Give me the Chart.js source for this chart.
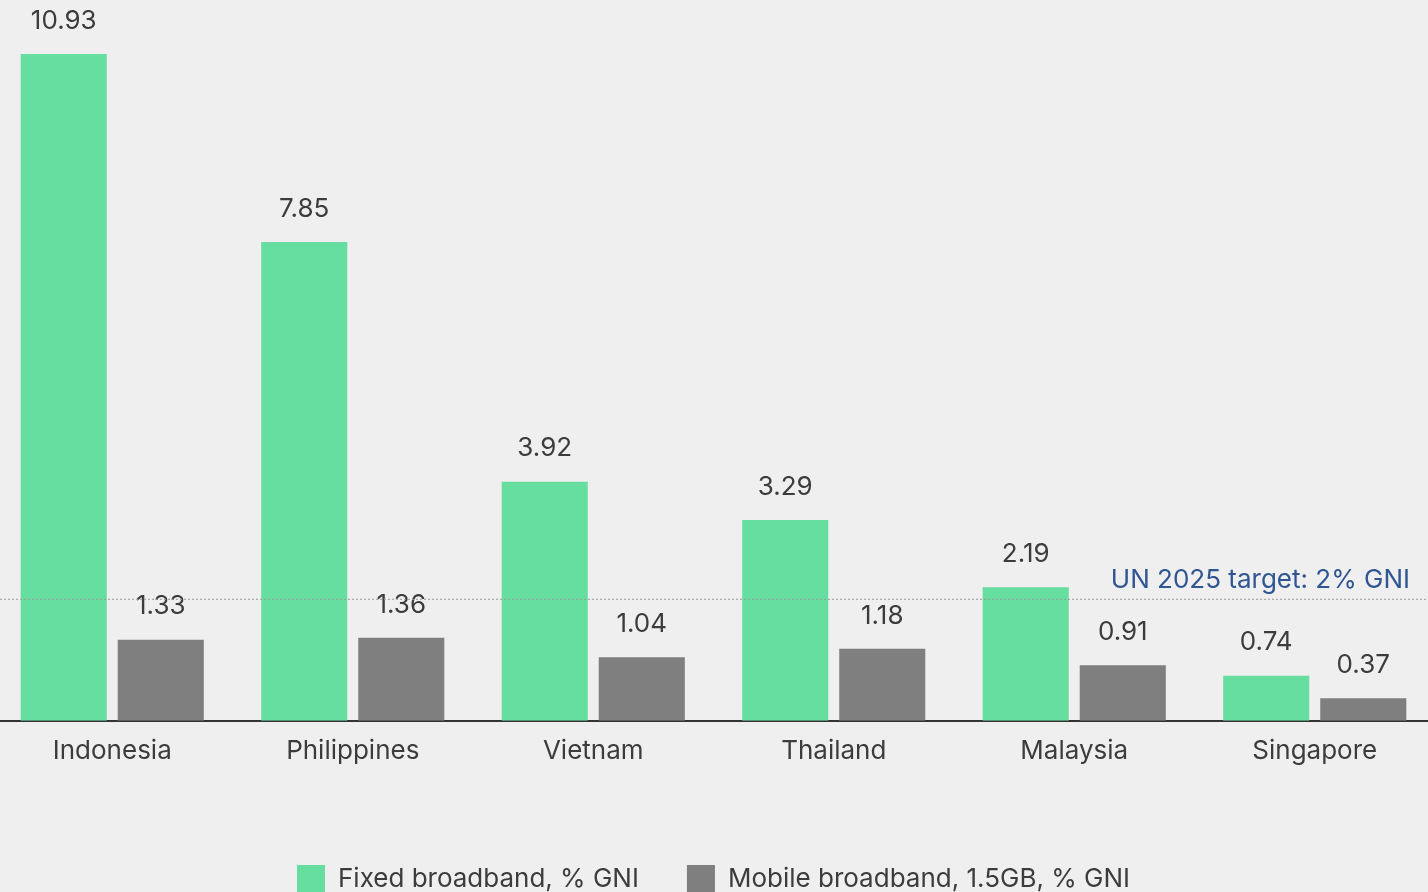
<!DOCTYPE html>
<html>
<head>
<meta charset="utf-8">
<script src="https://cdn.jsdelivr.net/npm/chart.js@4"></script>
<style>
  html, body { margin: 0; padding: 0; background: #efefef; overflow: hidden; }
  #wrap { position: absolute; left: -8px; top: 0; width: 1443px; height: 892px; }
</style>
</head>
<body>
<div id="wrap"><canvas id="gniChart" width="1443" height="892"></canvas></div>
<script>
// values as printed on the bars
const countries = ['Indonesia', 'Philippines', 'Vietnam', 'Thailand', 'Malaysia', 'Singapore'];
const fixedBroadband = [10.93, 7.85, 3.92, 3.29, 2.19, 0.74];
const mobileBroadband = [1.33, 1.36, 1.04, 1.18, 0.91, 0.37];
const seriesNames = ['Fixed broadband, % GNI', 'Mobile broadband, 1.5GB, % GNI'];
const targetValue = 2;
const targetLabel = 'UN 2025 target: 2% GNI';

const FONT = 'Inter, "Noto Sans", sans-serif';
const TEXT = '#3c3c3c';

// numbers above each bar
const valueLabels = {
    id: 'valueLabels',
    afterDatasetsDraw(chart) {
        const ctx = chart.ctx;
        ctx.save();
        ctx.font = '26px ' + FONT;
        ctx.fillStyle = TEXT;
        ctx.textAlign = 'center';
        ctx.textBaseline = 'middle';
        chart.data.datasets.forEach((ds, i) => {
            chart.getDatasetMeta(i).data.forEach((bar, j) => {
                ctx.fillText(ds.data[j].toFixed(2), bar.x, bar.y - 33);
            });
        });
        ctx.restore();
    }
};

// dotted UN target line
const targetLine = {
    id: 'targetLine',
    afterDatasetsDraw(chart) {
        const ctx = chart.ctx;
        const y = chart.scales.y.getPixelForValue(targetValue);
        ctx.save();
        ctx.strokeStyle = '#9a9a9a';
        ctx.lineWidth = 1;
        ctx.setLineDash([2, 2]);
        ctx.beginPath();
        ctx.moveTo(8, y + 0.5);
        ctx.lineTo(chart.width, y + 0.5);
        ctx.stroke();
        ctx.setLineDash([]);
        ctx.font = '26px ' + FONT;
        ctx.fillStyle = '#2f5592';
        ctx.textAlign = 'right';
        ctx.textBaseline = 'alphabetic';
        ctx.fillText(targetLabel, 1418, y - 11);
        ctx.restore();
    }
};

const config = {
    type: 'bar',
    data: {
        labels: countries,
        datasets: [{
            label: seriesNames[0],
            data: fixedBroadband,
            backgroundColor: '#66de9f',
            categoryPercentage: 0.807,
            barPercentage: 0.887,
        }, {
            label: seriesNames[1],
            data: mobileBroadband,
            backgroundColor: '#7f7f7f',
            categoryPercentage: 0.807,
            barPercentage: 0.887,
        }]
    },
    options: {
        responsive: false,
        animation: false,
        layout: { padding: { top: 54, left: 0, right: 0, bottom: -11 } },
        scales: {
            x: {
                grid: { display: false },
                border: { display: true, color: '#333', width: 2 },
                ticks: { color: TEXT, font: { family: FONT, size: 26 }, padding: 7 },
                afterFit: scale => { scale.height += 43; },
            },
            y: {
                display: false,
                min: 0,
                max: 10.93,
            }
        },
        plugins: {
            legend: {
                position: 'bottom',
                labels: {
                    color: TEXT,
                    font: { family: FONT, size: 26 },
                    boxWidth: 28,
                    boxHeight: 28,
                    padding: 48,
                },
            },
            tooltip: { enabled: false },
        },
    },
    plugins: [valueLabels, targetLine],
};

new Chart(document.getElementById('gniChart'), config);
</script>
</body>
</html>
